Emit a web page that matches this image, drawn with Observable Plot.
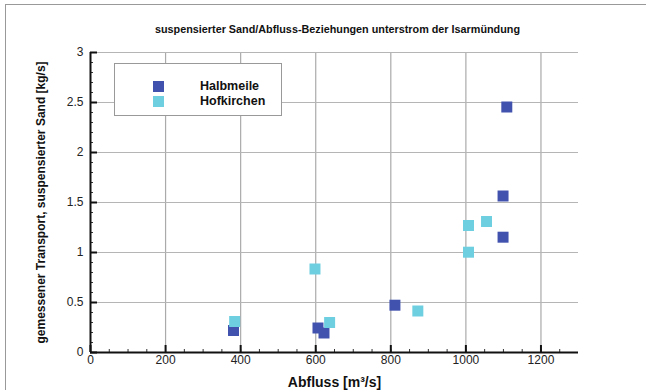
<!DOCTYPE html>
<html>
<head>
<meta charset="utf-8">
<script src="https://cdn.jsdelivr.net/npm/d3@7"></script>
<script src="https://cdn.jsdelivr.net/npm/@observablehq/plot@0.6"></script>
<style>
  html, body { margin: 0; padding: 0; background: #fff; }
  #wrap { position: relative; width: 646px; height: 390px; overflow: hidden; font-family: Arial, "Liberation Sans", sans-serif; }
  #frame { position: absolute; left: 5px; top: 4px; width: 700px; height: 500px; border-left: 1.5px solid #999; border-top: 1.5px solid #999; }
  #title { position: absolute; left: 155px; top: 24px; white-space: nowrap; font-size: 10px; font-weight: bold; color: #111; transform-origin: 0 50%; }
  #legend { position: absolute; left: 114px; top: 63px; width: 168px; height: 53px; border: 1.5px solid #999; background: #fff; box-sizing: border-box; }
  .li { position: absolute; left: 38px; font-size: 12.5px; font-weight: bold; color: #111; }
  .sw { display: inline-block; width: 11px; height: 11px; position: absolute; left: 0; top: 2px; }
  .li span.t { position: absolute; left: 47px; top: 0; white-space: nowrap; }
  svg { position: absolute; left: 0; top: 0; }
  g[aria-label="x-axis label"] text { font-weight: bold; font-size: 14px; fill: #111; }
  g[aria-label="y-axis label"] text { font-weight: bold; font-size: 12px; fill: #111; }
  g[aria-label="x-axis tick label"] text, g[aria-label="y-axis tick label"] text { fill: #222; }
</style>
</head>
<body>
<div id="wrap">
  <div id="frame"></div>
  <div id="title">suspensierter Sand/Abfluss-Beziehungen unterstrom der Isarmündung</div>
</div>
<script>
// Data
const seriesNames = ["Halbmeile", "Hofkirchen"];
const seriesColors = ["#4152ae", "#6dcfe0"];
const halbmeileQ = [381, 606, 622, 811, 1099, 1099, 1109];
const halbmeileS = [0.22, 0.245, 0.195, 0.473, 1.153, 1.565, 2.455];
const hofkirchenQ = [384, 598, 637, 872, 1007, 1007, 1055];
const hofkirchenS = [0.31, 0.835, 0.30, 0.415, 1.003, 1.27, 1.31];
const xTicks = [0, 200, 400, 600, 800, 1000, 1200];
const yTicks = [0, 0.5, 1, 1.5, 2, 2.5, 3];
const xMinor = d3.range(0, 1300, 50);
const yMinor = d3.range(0, 3.0001, 0.1).map(v => +v.toFixed(1));

const points = [
  ...halbmeileQ.map((q, i) => ({q, s: halbmeileS[i], series: seriesNames[0]})),
  ...hofkirchenQ.map((q, i) => ({q, s: hofkirchenS[i], series: seriesNames[1]}))
];

const W = 646, H = 390, mL = 90, mR = 68, mT = 52, mB = 38;
const pw = W - mL - mR, ph = H - mT - mB;

const chart = Plot.plot({
  width: W, height: H,
  marginLeft: mL, marginRight: mR, marginTop: mT, marginBottom: mB,
  style: { fontFamily: "Arial, 'Liberation Sans', sans-serif", fontSize: "12px", background: "transparent" },
  x: { domain: [0, 1300] },
  y: { domain: [0, 3] },
  color: { domain: seriesNames, range: seriesColors },
  marks: [
    Plot.ruleX(xTicks.slice(1), { stroke: "#aaa", strokeWidth: 1.2 }),
    Plot.ruleY(yTicks.slice(1), { stroke: "#b5b5b5", strokeWidth: 1.2 }),
    Plot.ruleX(xMinor, { stroke: "#333", strokeWidth: 1, insetTop: ph - 3 }),
    Plot.ruleX(xTicks, { stroke: "#111", strokeWidth: 2, insetTop: ph - 7 }),
    Plot.ruleY(yMinor, { stroke: "#333", strokeWidth: 1, insetRight: pw - 3 }),
    Plot.ruleY(yTicks, { stroke: "#111", strokeWidth: 2, insetRight: pw - 7 }),
    Plot.ruleY([0], { stroke: "#111", strokeWidth: 2 }),
    Plot.ruleX([0], { stroke: "#111", strokeWidth: 2 }),
    Plot.axisX({ ticks: xTicks, tickSize: 0, tickPadding: 3, tickFormat: d => String(d),
      label: "Abfluss [m³/s]", labelAnchor: "center", labelArrow: "none", labelOffset: 34, fontSize: 12 }),
    Plot.axisY({ ticks: yTicks, tickSize: 0, tickPadding: 7, tickFormat: d => String(d),
      label: "gemessener Transport, suspensierter Sand [kg/s]", labelAnchor: "center", labelArrow: "none", labelOffset: 54, fontSize: 12 }),
    Plot.dot(points, { x: "q", y: "s", fill: "series", symbol: "square", r: 6.2 })
  ]
});
document.getElementById("wrap").appendChild(chart);

// Stretch title horizontally to the reference's span (155 → 520 px)
const title = document.getElementById("title");
const tw = title.getBoundingClientRect().width;
title.style.transform = "scaleX(" + (365 / tw) + ")";

// Legend
const leg = document.createElement("div");
leg.id = "legend";
seriesNames.forEach((name, i) => {
  const row = document.createElement("div");
  row.className = "li";
  row.style.top = (15 + i * 15) + "px";
  const sw = document.createElement("span");
  sw.className = "sw";
  sw.style.background = seriesColors[i];
  const t = document.createElement("span");
  t.className = "t";
  t.textContent = name;
  row.appendChild(sw); row.appendChild(t);
  leg.appendChild(row);
});
document.getElementById("wrap").appendChild(leg);
</script>
</body>
</html>
